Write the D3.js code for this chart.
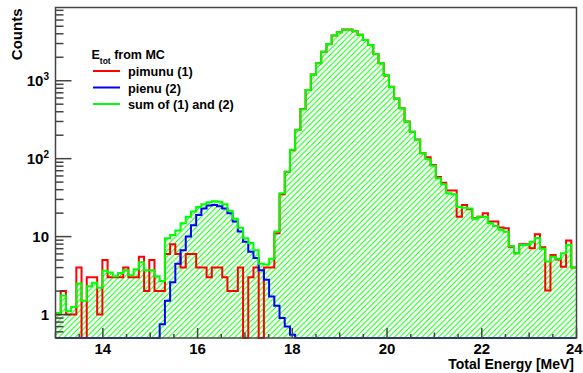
<!doctype html>
<html>
<head>
<style>
  body { margin: 0; background: #fff; }
  text { font-family: "Liberation Sans", Arial, Helvetica, sans-serif; font-weight: bold; fill: #000; }
</style>
<script src="https://d3js.org/d3.v7.min.js"></script>
</head>
<body>
<svg width="583" height="373"></svg>
<script>
// 100 bins of 0.11 MeV from 13 to 24 MeV
var pimunu = [1,2,1,1,4,0,3,3,1,5,
  3,3,3,4,3,3,5.5,2,5,2,
  2,6,8,6,4,6,6,4,4,3,
  4,4,3,2,2,4,0,3,4,0,
  4,4,11,35,68,128,235,435,760,1200,
  1680,2350,2950,3800,4200,4550,4550,4320,3900,3330,
  2870,2200,1680,1170,840,590,445,300,222,176,
  117,104,83,58,49,39,39,18,25.5,22.4,
  17.2,18,19.9,15.6,15.6,13.1,12.8,7.4,6.1,8,
  8,7.1,10.7,7.3,2.03,5.8,5.1,4.1,8.9,4.0];

var pienu = [0,0,0,0,0,0,0,0,0,0,
  0,0,0,0,0,0,0,0,0,0,
  0.75,1.5,2.6,4.5,6.7,10,14,19,23,25,
  25.5,24.5,23,20,15.6,11.6,8.6,6.4,5.3,3.7,
  2.8,1.7,1.3,0.9,0.7,0.55,0,0,0,0,
  0,0,0,0,0,0,0,0,0,0,
  0,0,0,0,0,0,0,0,0,0,
  0,0,0,0,0,0,0,0,0,0,
  0,0,0,0,0,0,0,0,0,0,
  0,0,0,0,0,0,0,0,0,0];

var sumMC = [1.05,1.75,1.1,1.25,2.5,1.5,2.3,2.55,2.2,3.65,
  3.45,3.1,3.4,3.7,3.2,3.8,4.7,3.7,3.7,3.1,
  2.7,9.5,10.5,12,14.8,18,21,24,26,27.5,
  28.5,28,26,21.5,17,13,9.5,8.3,6.7,4.5,
  4.4,5.2,11.6,36,68,130,233,430,760,1190,
  1670,2350,2950,3800,4200,4500,4500,4320,3900,3330,
  2870,2200,1670,1180,830,585,443,298,222,174,
  117,98,81,56,47,36,35,24,23.5,23,
  17,18,18,14.8,13.7,12.2,11.5,7.6,6.1,7.8,
  7.8,8.6,9.6,7,4.8,5.5,5.2,6.1,7.8,4.0];

var xTicks = [14, 16, 18, 20, 22, 24];
var yTicks = [1, 10, 100, 1000];
var yLabels = [["1", ""], ["10", ""], ["10", "2"], ["10", "3"]];
var legendItems = [
  {label: "pimunu (1)", color: "#ff0000"},
  {label: "pienu (2)", color: "#0000ff"},
  {label: "sum of (1) and (2)", color: "#00ff00"}
];

var svg = d3.select("svg");
var pL = 55.5, pR = 576.5, pT = 7.5, pB = 338;
var eMin = 13, eMax = 24, nBins = pimunu.length, bw = (eMax - eMin) / nBins;
var yMin = 0.5;

var x = d3.scaleLinear().domain([eMin, eMax]).range([pL, pR]);
var y = d3.scaleLog().domain([yMin, 8700]).range([pB, pT]);

var defs = svg.append("defs");
defs.append("clipPath").attr("id", "frame")
  .append("rect").attr("x", pL).attr("y", pT).attr("width", pR - pL).attr("height", pB - pT + 1);
var s = 5.5;
var pat = defs.append("pattern").attr("id", "hatch")
  .attr("patternUnits", "userSpaceOnUse").attr("width", s).attr("height", s);
pat.append("path")
  .attr("d", "M-1,1 L1,-1 M0," + s + " L" + s + ",0 M" + (s - 1) + "," + (s + 1) + " L" + (s + 1) + "," + (s - 1))
  .attr("stroke", "#00ff00").attr("stroke-width", 1);

// step data: one point per bin lower edge, plus closing edge
function steps(arr) {
  var pts = arr.map(function(v, i) { return {e: eMin + i * bw, v: v}; });
  pts.push({e: eMax, v: arr[arr.length - 1]});
  return pts;
}
function yv(v) { return y(Math.max(v, yMin)); }

var line = d3.line().curve(d3.curveStepAfter)
  .x(function(d) { return x(d.e); })
  .y(function(d) { return yv(d.v); });
var area = d3.area().curve(d3.curveStepAfter)
  .x(function(d) { return x(d.e); })
  .y0(pB)
  .y1(function(d) { return yv(d.v); });

var plot = svg.append("g").attr("clip-path", "url(#frame)");

plot.append("path").datum(steps(sumMC)).attr("d", area).attr("fill", "url(#hatch)");
plot.append("path").datum(steps(pimunu)).attr("d", line)
  .attr("fill", "none").attr("stroke", "#ff0000").attr("stroke-width", 2);
plot.append("path").datum(steps(pienu)).attr("d", line)
  .attr("fill", "none").attr("stroke", "#0000ff").attr("stroke-width", 2);
plot.append("path").datum(steps(sumMC)).attr("d", line)
  .attr("fill", "none").attr("stroke", "#00ff00").attr("stroke-width", 2);

// frame
var axisColor = "#444";
svg.append("rect").attr("x", pL).attr("y", pT).attr("width", pR - pL).attr("height", pB - pT)
  .attr("fill", "none").attr("stroke", axisColor).attr("stroke-width", 1.5);

// y axis ticks (log)
var yMinor = [];
[-1, 0, 1, 2, 3].forEach(function(n) {
  for (var k = 2; k <= 9; k++) {
    var v = k * Math.pow(10, n);
    if (v >= yMin && v <= 8700) yMinor.push(v);
  }
});
svg.append("g").selectAll("line").data(yMinor).enter().append("line")
  .attr("x1", pL).attr("x2", pL + 8)
  .attr("y1", function(d) { return y(d); }).attr("y2", function(d) { return y(d); })
  .attr("stroke", axisColor).attr("stroke-width", 1.5);
svg.append("g").selectAll("line").data(yTicks).enter().append("line")
  .attr("x1", pL).attr("x2", pL + 16)
  .attr("y1", function(d) { return y(d); }).attr("y2", function(d) { return y(d); })
  .attr("stroke", axisColor).attr("stroke-width", 1.5);

var yl = svg.append("g").selectAll("text").data(yTicks).enter().append("text")
  .attr("x", 49).attr("y", function(d) { return y(d) + 5.5; })
  .attr("text-anchor", "end").attr("font-size", 15);
yl.append("tspan").text(function(d, i) { return yLabels[i][0]; });
yl.append("tspan").attr("font-size", 10).attr("dy", -6)
  .text(function(d, i) { return yLabels[i][1]; });

// x axis ticks
var xAll = d3.range(13, 24.01, 0.5);
svg.append("g").selectAll("line").data(xAll).enter().append("line")
  .attr("x1", function(d) { return x(d); }).attr("x2", function(d) { return x(d); })
  .attr("y1", pB)
  .attr("y2", function(d) {
    if (d % 2 === 0) return pB - 10;
    if (d % 1 === 0) return pB - 5.5;
    return pB - 4;
  })
  .attr("stroke", axisColor).attr("stroke-width", 1.5);
svg.append("g").selectAll("text").data(xTicks).enter().append("text")
  .attr("x", function(d) { return Math.min(x(d), 574.3); }).attr("y", 353.5)
  .attr("text-anchor", "middle").attr("font-size", 15)
  .text(function(d) { return d; });

// axis titles
svg.append("text").attr("x", 574).attr("y", 368.5).attr("text-anchor", "end")
  .attr("font-size", 14).text("Total Energy [MeV]");
svg.append("text").attr("transform", "translate(22,8.5) rotate(-90)")
  .attr("text-anchor", "end").attr("font-size", 15).text("Counts");

// legend
var head = svg.append("text").attr("x", 91.5).attr("y", 59).attr("font-size", 12.5);
head.append("tspan").text("E");
head.append("tspan").attr("font-size", 8.5).attr("dy", 4.5).text("tot");
head.append("tspan").attr("dy", -4.5).text(" from MC");

var lg = svg.append("g").selectAll("g").data(legendItems).enter().append("g")
  .attr("transform", function(d, i) { return "translate(0," + (71 + i * 16.5) + ")"; });
lg.append("line").attr("x1", 93).attr("x2", 120).attr("y1", 0).attr("y2", 0)
  .attr("stroke", function(d) { return d.color; }).attr("stroke-width", 2);
lg.append("text").attr("x", 128).attr("y", 5).attr("font-size", 12.7)
  .text(function(d) { return d.label; });
</script>
</body>
</html>
